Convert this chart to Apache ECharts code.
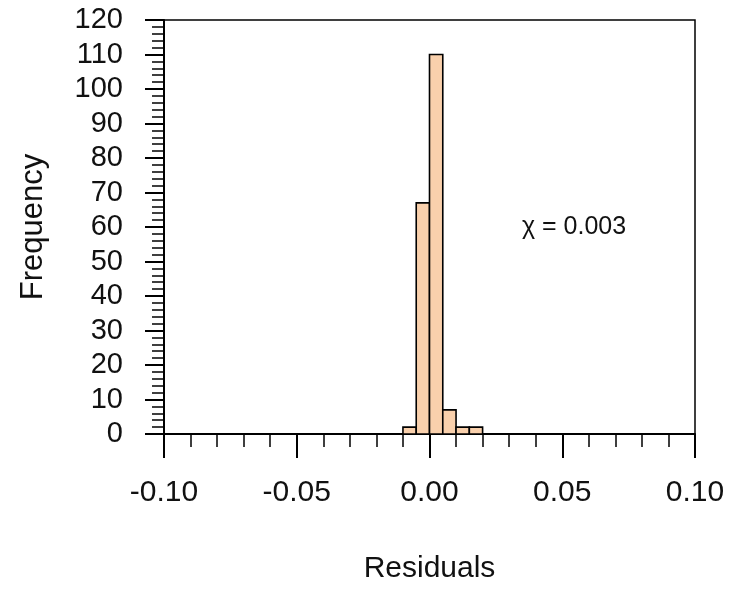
<!DOCTYPE html>
<html>
<head>
<meta charset="utf-8">
<script src="https://cdn.jsdelivr.net/npm/echarts@6/dist/echarts.min.js"></script>
<style>
html,body{margin:0;padding:0;background:#fff;}
#chart{width:732px;height:589px;}
</style>
</head>
<body>
<div id="chart"></div>
<script>
// Histogram data (bin edges in residual units, counts)
const binStart = [-0.01, -0.005, 0.0, 0.005, 0.01, 0.015];
const binEnd   = [-0.005, 0.0, 0.005, 0.01, 0.015, 0.02];
const counts   = [2, 67, 110, 7, 2, 2];

const xTicks = [-0.10, -0.05, 0.00, 0.05, 0.10];
const yTicks = [0, 10, 20, 30, 40, 50, 60, 70, 80, 90, 100, 110, 120];
const annotation = 'χ = 0.003';

const FONT = '"Liberation Sans", Arial, sans-serif';

const chart = echarts.init(document.getElementById('chart'), null, {renderer: 'canvas'});

const data = binStart.map((s, i) => [s, binEnd[i], counts[i]]);

chart.setOption({
  backgroundColor: '#ffffff',
  animation: false,
  grid: {
    left: 164, right: 37, top: 20, bottom: 154,
    show: true, borderColor: '#000', borderWidth: 1.5, backgroundColor: 'transparent'
  },
  xAxis: {
    type: 'value',
    min: xTicks[0], max: xTicks[xTicks.length - 1], interval: 0.05,
    name: 'Residuals', nameLocation: 'middle', nameGap: 120,
    nameTextStyle: {fontFamily: FONT, fontSize: 30, color: '#111'},
    axisLine: {show: true, onZero: false, lineStyle: {color: '#000', width: 2}},
    axisTick: {show: true, inside: false, length: 24, lineStyle: {color: '#000', width: 2}},
    minorTick: {show: true, splitNumber: 5, length: 13, lineStyle: {color: '#000', width: 1.5}},
    splitLine: {show: false},
    axisLabel: {
      fontFamily: FONT, fontSize: 30, color: '#111', margin: 44,
      formatter: v => v.toFixed(2)
    }
  },
  yAxis: {
    type: 'value',
    min: yTicks[0], max: yTicks[yTicks.length - 1], interval: 10,
    name: 'Frequency', nameLocation: 'middle', nameGap: 115,
    nameTextStyle: {fontFamily: FONT, fontSize: 31, color: '#111'},
    axisLine: {show: true, onZero: false, lineStyle: {color: '#000', width: 2}},
    axisTick: {show: true, inside: false, length: 19, lineStyle: {color: '#000', width: 2}},
    minorTick: {show: true, splitNumber: 5, length: 12, lineStyle: {color: '#000', width: 1.5}},
    splitLine: {show: false},
    axisLabel: {fontFamily: FONT, fontSize: 29, color: '#111', margin: 41}
  },
  series: [{
    type: 'custom',
    data: data,
    encode: {x: [0, 1], y: 2},
    renderItem: function (params, api) {
      const p0 = api.coord([api.value(0), 0]);
      const p1 = api.coord([api.value(1), api.value(2)]);
      return {
        type: 'rect',
        shape: {x: p0[0], y: p1[1], width: p1[0] - p0[0], height: p0[1] - p1[1]},
        style: {fill: '#F9D0AC', stroke: '#000', lineWidth: 1.6}
      };
    }
  }],
  graphic: [{
    type: 'text',
    left: 522, top: 215,
    style: {text: annotation, font: '25px ' + FONT, fill: '#111'}
  }]
});
</script>
</body>
</html>
